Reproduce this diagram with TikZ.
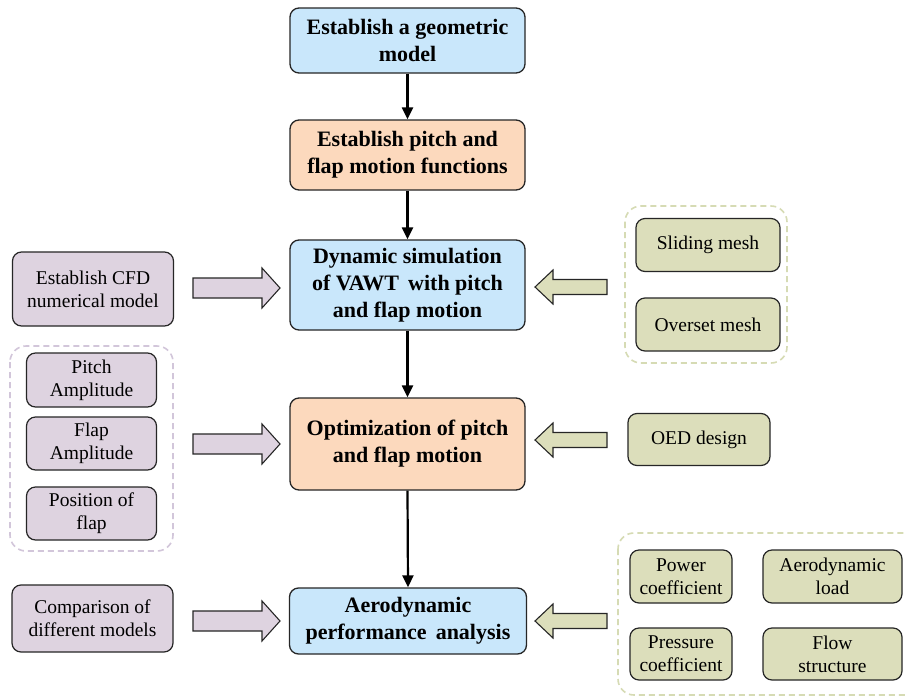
\documentclass[tikz,border=0pt]{standalone}
\usepackage{fontspec}
\setmainfont{Liberation Serif}
\usetikzlibrary{arrows.meta}
\definecolor{cblue}{HTML}{C9E7FB}
\definecolor{corange}{HTML}{FCD9BD}
\definecolor{cpurple}{HTML}{DED3E0}
\definecolor{cgreen}{HTML}{DCDEBB}
\definecolor{cedge}{HTML}{262626}
\definecolor{dpurple}{HTML}{D2C6DA}
\definecolor{dgreen}{HTML}{D6DBB4}
\tikzset{
  mainbox/.style={draw=cedge, line width=1.3pt, rounded corners=9pt, align=center,
    inner sep=0pt, minimum width=235pt, font=\rmfamily\bfseries\fontsize{22}{27}\selectfont},
  sidebox/.style={draw=cedge, line width=1.2pt, rounded corners=9pt, align=center,
    inner sep=0pt, font=\rmfamily\fontsize{19.5}{23}\selectfont},
  container/.style={dashed, dash pattern=on 6pt off 4pt, line width=1.6pt, rounded corners=16pt},
  flow/.style={line width=2.2pt, -{Triangle[width=11pt,length=12pt]}},
  hollow/.style={draw=cedge, line width=1.1pt},
  rarrow/.pic={\path[hollow, pic actions] (0,-10) -- (69,-10) -- (69,-20) -- (87,0) -- (69,20) -- (69,10) -- (0,10) -- cycle;},
  larrow/.pic={\path[hollow, pic actions] (0,-7.5) -- (-54,-7.5) -- (-54,-17) -- (-72,0) -- (-54,17) -- (-54,7.5) -- (0,7.5) -- cycle;}
}
\begin{document}
\begin{tikzpicture}[x=1pt,y=-1pt]
\clip (0,0) rectangle (906,697);
\fill[white] (0,0) rectangle (906,697);

% dashed containers
\draw[container, draw=dpurple] (10,346) rectangle (173,551);
\draw[container, draw=dgreen] (625,206) rectangle (787,363);
\draw[container, draw=dgreen] (618,533) rectangle (922,695);

% main column
\node[mainbox, fill=cblue, minimum height=65pt] (b1) at (407.5,40.5) {Establish a geometric\\model};
\node[mainbox, fill=corange, minimum height=70pt] (b2) at (407.5,155) {Establish pitch and\\flap motion functions};
\node[mainbox, fill=cblue, minimum height=90pt] (b3) at (407.5,285) {Dynamic simulation\\of VAWT\, with pitch\\and flap motion};
\node[mainbox, fill=corange, minimum height=92pt] (b4) at (407.5,444) {Optimization of pitch\\and flap motion};
\node[mainbox, fill=cblue, minimum height=66pt, minimum width=237pt] (b5) at (408,621) {Aerodynamic\\performance\, analysis};

\draw[flow] (b1.south) -- (b2.north);
\draw[flow] (b2.south) -- (b3.north);
\draw[flow] (b3.south) -- (b4.north);
\draw[flow] (b4.south) -- (b5.north);

% left side
\node[sidebox, fill=cpurple, minimum width=161pt, minimum height=74pt] (cfd) at (93,289) {Establish CFD\\numerical model};
\node[sidebox, fill=cpurple, minimum width=130pt, minimum height=54pt] (pa) at (91.5,380) {Pitch\\Amplitude};
\node[sidebox, fill=cpurple, minimum width=130pt, minimum height=53pt] (fa) at (91.5,443.5) {Flap\\Amplitude};
\node[sidebox, fill=cpurple, minimum width=130pt, minimum height=53pt] (pf) at (91.5,513.5) {Position of\\flap};
\node[sidebox, fill=cpurple, minimum width=161pt, minimum height=67pt] (cmp) at (92.5,618.5) {Comparison of\\different models};

% right side
\node[sidebox, fill=cgreen, minimum width=144pt, minimum height=53pt] (sm) at (708,245) {Sliding mesh};
\node[sidebox, fill=cgreen, minimum width=144pt, minimum height=53pt] (om) at (708,324.5) {Overset mesh};
\node[sidebox, fill=cgreen, minimum width=142pt, minimum height=52pt] (oed) at (699,439.5) {OED design};
\node[sidebox, fill=cgreen, minimum width=102pt, minimum height=53pt] (pc) at (681,576.5) {Power\\coefficient};
\node[sidebox, fill=cgreen, minimum width=139pt, minimum height=53pt] (al) at (832.5,576.5) {Aerodynamic\\load};
\node[sidebox, fill=cgreen, minimum width=102pt, minimum height=52pt] (prc) at (681,654) {Pressure\\coefficient};
\node[sidebox, fill=cgreen, minimum width=139pt, minimum height=52pt] (fs) at (832.5,654) {Flow\\structure};

% hollow arrows
\pic[fill=cpurple] at (193,288) {rarrow};
\pic[fill=cpurple] at (193,444) {rarrow};
\pic[fill=cpurple] at (193,621) {rarrow};
\pic[fill=cgreen] at (607,287) {larrow};
\pic[fill=cgreen] at (607,440) {larrow};
\pic[fill=cgreen] at (607,621) {larrow};
\end{tikzpicture}
\end{document}
